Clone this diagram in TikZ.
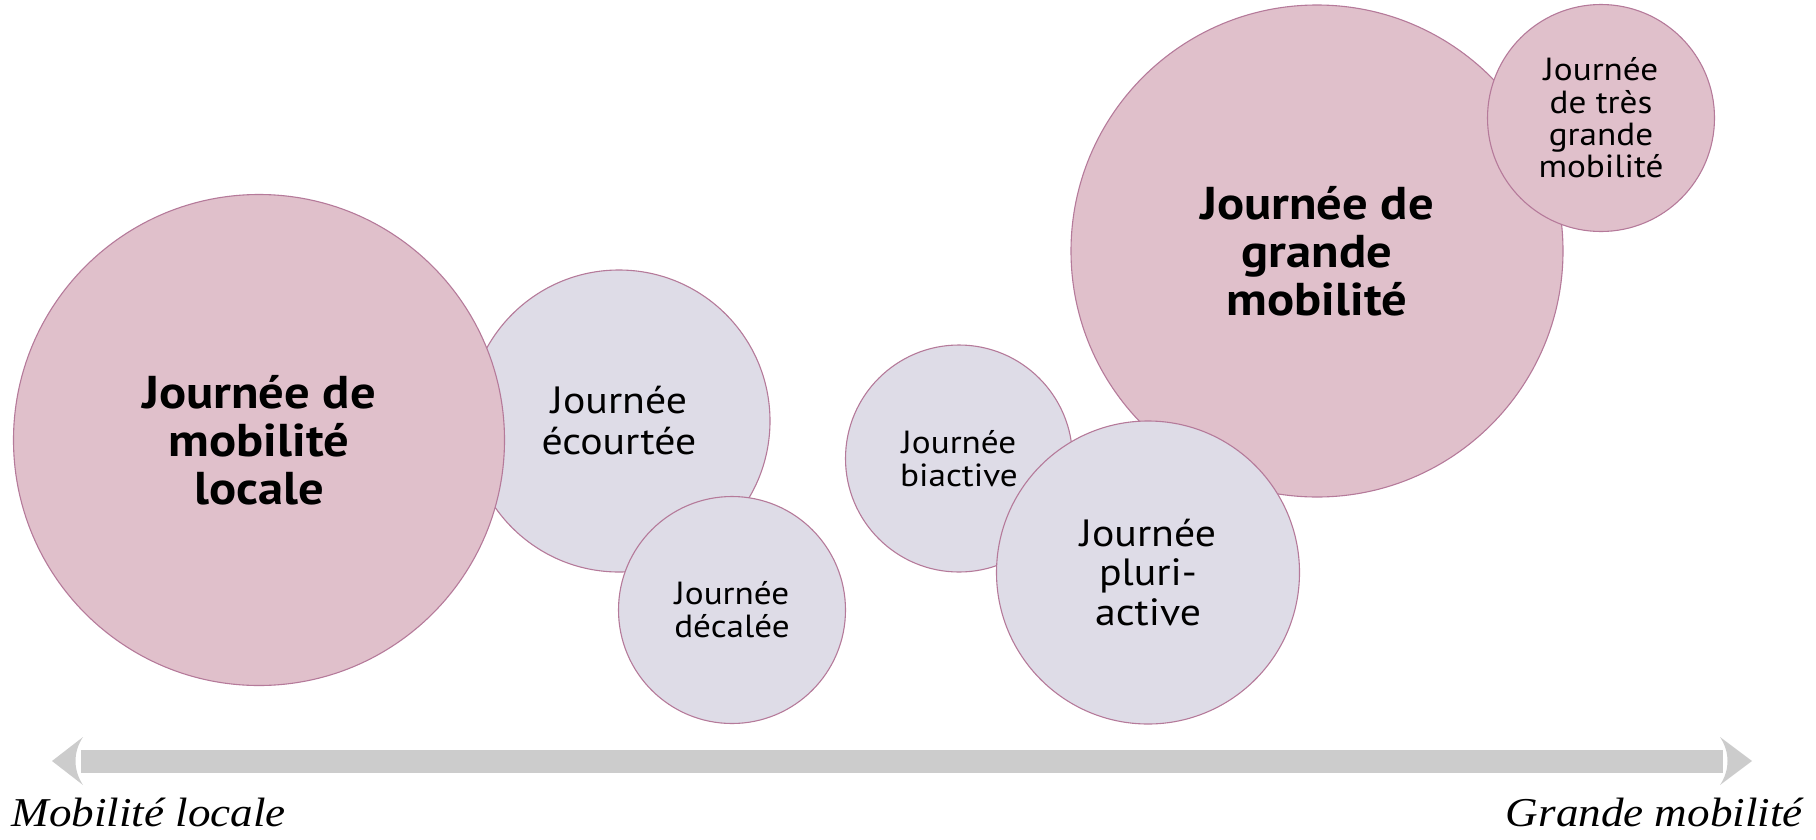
\documentclass[tikz,border=0pt]{standalone}
\usepackage{fontspec}
\newfontfamily\dinfont[FakeStretch=1.1]{PT Sans}
\newfontfamily\labfont[FakeStretch=1.1]{Liberation Serif}
\definecolor{rosefill}{RGB}{224,192,203}
\definecolor{lavfill}{RGB}{222,220,231}
\definecolor{edgecol}{RGB}{181,122,154}
\definecolor{axisgray}{RGB}{204,204,204}
\tikzset{
  bubble/.style={circle, draw=edgecol, line width=1.1pt, inner sep=0pt, align=center, text=black},
  pinkbub/.style={bubble, fill=rosefill},
  lavbub/.style={bubble, fill=lavfill},
  boldtxt/.style={font=\dinfont\bfseries\fontsize{46}{48}\selectfont},
  medtxt/.style={font=\dinfont\fontsize{38}{41}\selectfont},
  smalltxt/.style={font=\dinfont\fontsize{32}{33}\selectfont},
  axislab/.style={font=\labfont\itshape\fontsize{41}{48}\selectfont, inner sep=0pt, anchor=base},
  axisfill/.style={fill=axisgray, draw=none}
}
\begin{document}
\begin{tikzpicture}[x=1pt, y=-1pt]
\useasboundingbox (0,0) rectangle (1816,839);
% bubbles
\node[lavbub, medtxt, minimum size=302pt] (ecourtee) at (619,421) {Journée\\écourtée};
\node[pinkbub, boldtxt, minimum size=491pt] (locale) at (259,440) {Journée de\\mobilité\\locale};
\node[lavbub, smalltxt, minimum size=227pt] (decalee) at (732,610) {Journée\\décalée};
\node[lavbub, smalltxt, minimum size=227pt] (biactive) at (959,458.5) {Journée\\biactive};
\node[pinkbub, boldtxt, minimum size=492pt] (grande) at (1317,251) {Journée de\\grande\\mobilité};
\node[lavbub, medtxt, font=\dinfont\fontsize{38}{39.5}\selectfont, minimum size=303pt] (pluri) at (1148,572.5) {Journée\\pluri-\\active};
\node[pinkbub, smalltxt, font=\dinfont\fontsize{32}{32.4}\selectfont, minimum size=227pt] (tres) at (1601,118) {Journée\\de très\\grande\\mobilité};
% axis
\coordinate (ltip) at (52,761);
\coordinate (rtip) at (1752,761);
\fill[axisfill] (81,750) rectangle (1723,773);
\fill[axisfill] (ltip) -- (83,737) .. controls (73,752) and (73,770) .. (83,785) -- cycle;
\fill[axisfill] (rtip) -- (1720,737) .. controls (1730,752) and (1730,770) .. (1720,785) -- cycle;
\node[axislab, anchor=base west] (lleft) at (11.5,826.5) {Mobilité locale};
\node[axislab, anchor=base east] (lright) at (1803,826.5) {Grande mobilité};
\end{tikzpicture}
\end{document}
